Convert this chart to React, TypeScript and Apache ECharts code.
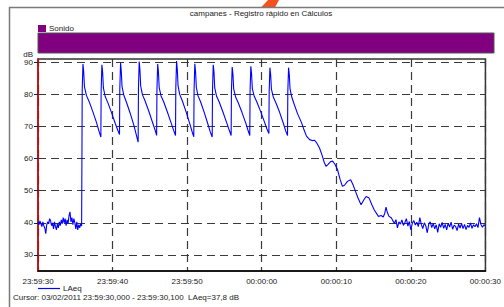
import React, { useEffect, useRef } from "react";
import * as echarts from "echarts";

const TITLE = "campanes - Registro rápido en Cálculos";
const BAND_LABEL = "Sonido";
const SERIES_NAME = "LAeq";
const CURSOR_TEXT = "Cursor: 03/02/2011 23:59:30,000 - 23:59:30,100  LAeq=37,8 dB";
const Y_UNIT = "dB";

// x axis: seconds after 23:59:30
const xTickLabels = ["23:59:30", "23:59:40", "23:59:50", "00:00:00", "00:00:10", "00:00:20", "00:00:30"];
const yTicks = [30, 40, 50, 60, 70, 80, 90];

// background noise before the bells (sampled every 0.13 s from t = 0)
const startNoiseStep = 0.13;
const startNoise = [
  40.3, 39.4, 40.6, 39.7, 38.8, 40.3, 39.1, 38.4, 36.6, 39.4,
  40.3, 39.7, 41.3, 40.6, 39.1, 40.0, 38.1, 40.3, 38.8, 37.8,
  39.7, 38.4, 40.3, 39.1, 40.9, 39.7, 41.6, 40.0, 41.3, 39.1,
  40.9, 39.7, 42.2, 43.4, 40.3, 41.6, 39.4, 41.3, 40.0, 38.1,
  40.3, 37.8, 39.4, 38.4, 39.7, 39.0,
];

// bell strikes: [seconds, dB]
const bellStrikes: [number, number][] = [
  [5.93, 81.5], [6.03, 89.4], [6.13, 87.0], [6.23, 82.3], [6.5, 79.6], [6.85, 77.8], [7.35, 74.6], [7.85, 71.2], [8.2, 68.4], [8.43, 66.7],
  [8.47, 81.3], [8.57, 89.2], [8.67, 86.8], [8.77, 82.0], [9.0, 79.4], [9.35, 77.5], [9.85, 74.4], [10.35, 71.0], [10.7, 68.8], [10.93, 67.5],
  [10.97, 81.6], [11.07, 89.8], [11.17, 87.2], [11.27, 82.4], [11.5, 79.8], [11.85, 77.6], [12.35, 74.2], [12.85, 70.4], [13.2, 67.2], [13.43, 65.1],
  [13.47, 81.8], [13.57, 90.2], [13.67, 87.6], [13.77, 82.6], [14.0, 79.9], [14.35, 78.0], [14.85, 74.8], [15.35, 71.3], [15.7, 68.9], [15.91, 67.2],
  [15.95, 81.4], [16.05, 89.4], [16.15, 87.0], [16.25, 82.1], [16.5, 79.5], [16.85, 77.7], [17.35, 74.5], [17.85, 71.1], [18.2, 68.7], [18.44, 67.2],
  [18.48, 81.9], [18.58, 90.4], [18.68, 87.8], [18.78, 82.7], [19.0, 80.0], [19.35, 78.0], [19.85, 74.6], [20.35, 70.9], [20.65, 68.5], [20.89, 66.8],
  [20.93, 81.5], [21.03, 89.5], [21.13, 87.1], [21.23, 82.2], [21.45, 79.6], [21.8, 77.7], [22.3, 74.3], [22.8, 70.6], [23.1, 68.3], [23.36, 66.7],
  [23.4, 81.3], [23.5, 89.2], [23.6, 86.9], [23.7, 82.0], [23.95, 79.4], [24.3, 77.6], [24.8, 74.5], [25.3, 71.2], [25.65, 68.8], [25.9, 67.2],
  [25.94, 81.0], [26.04, 88.5], [26.14, 86.3], [26.24, 81.7], [26.5, 79.2], [26.85, 77.4], [27.35, 74.4], [27.85, 71.1], [28.15, 68.9], [28.4, 67.2],
  [28.44, 81.1], [28.54, 88.7], [28.64, 86.4], [28.74, 81.8], [29.0, 79.4], [29.35, 77.6], [29.85, 74.7], [30.35, 71.5], [30.7, 69.2], [30.96, 67.8],
  [31.0, 80.9], [31.1, 88.3], [31.2, 86.1], [31.3, 81.6], [31.55, 79.2], [31.9, 77.4], [32.4, 74.4], [32.9, 71.0], [33.2, 68.7], [33.46, 67.2],
  [33.5, 80.9], [33.6, 88.3], [33.7, 86.1], [33.8, 81.6], [34.05, 79.0], [34.4, 76.6], [34.8, 74.0],
];

// final decay after the last strike
const decayTail: [number, number][] = [
  [35.34, 71.2], [35.7, 68.8], [36.0, 67.0], [36.43, 65.9], [36.75, 65.6], [37.09, 65.7], [37.4, 64.8], [37.75, 63.3],
  [38.1, 61.0], [38.4, 58.7], [38.63, 57.6], [38.9, 58.2], [39.2, 59.0], [39.5, 59.2], [39.8, 58.3], [40.16, 56.6],
  [40.5, 53.6], [40.82, 51.4], [41.1, 51.7], [41.5, 52.9], [41.92, 53.4], [42.2, 52.1], [42.58, 49.8], [42.9, 47.8],
  [43.32, 45.6], [43.7, 47.2], [44.0, 48.2], [44.4, 47.7], [44.77, 45.6], [45.1, 44.0], [45.65, 42.0], [46.0, 42.3],
  [46.3, 41.8], [46.5, 43.0], [46.67, 44.9], [46.85, 43.2], [47.05, 42.1], [47.4, 41.5],
];

// background noise after the bells (sampled every 0.2 s from t = 47.6)
const tailNoiseStart = 47.6;
const tailNoiseStep = 0.2;
const tailNoise = [
  40.6, 39.8, 41.0, 38.4, 40.3, 39.6, 40.9, 39.2, 40.1, 41.3, 39.0, 40.4, 37.8, 39.9, 40.7,
  39.3, 40.2, 38.8, 41.6, 39.5, 38.2, 40.0, 39.1, 36.9, 39.6, 40.3, 38.5, 39.8, 38.1, 39.4,
  37.0, 39.7, 38.6, 40.1, 38.3, 39.5, 37.8, 39.9, 38.7, 40.2, 38.0, 39.3, 38.9, 37.6, 39.6,
  38.4, 39.8, 38.2, 39.5, 37.9, 39.2, 38.6, 40.0, 38.3, 39.4, 38.8, 39.7, 38.5, 41.6, 39.5,
  38.6, 39.4, 39.0,
];

const FONT = "'Liberation Sans', Arial, sans-serif";

export default function App() {
  const ref = useRef<HTMLDivElement>(null);

  useEffect(() => {
    if (!ref.current) return;
    const chart = echarts.init(ref.current, undefined, { renderer: "svg" });

    const data: [number, number][] = [
      ...startNoise.map((v, i) => [+(i * startNoiseStep).toFixed(3), v] as [number, number]),
      ...bellStrikes,
      ...decayTail,
      ...tailNoise.map((v, i) => [+(tailNoiseStart + i * tailNoiseStep).toFixed(3), v] as [number, number]),
    ];

    const dash = { color: "#3a3a3a", type: [8, 5] as number[], width: 1.2 };
    const txt = { fontSize: 8, fontFamily: FONT, fill: "#1a1a1a" };

    chart.setOption({
      animation: false,
      backgroundColor: "#ffffff",
      grid: {
        left: 38,
        top: 59,
        width: 456,
        height: 212,
        show: true,
        borderColor: "#333333",
        borderWidth: 1.5,
        backgroundColor: "transparent",
      },
      xAxis: {
        type: "value",
        min: 0,
        max: 60,
        interval: 10,
        axisLine: { show: true, onZero: false, lineStyle: { color: "#000000", width: 1.5 } },
        axisTick: { show: false },
        axisLabel: {
          formatter: (v: number) => xTickLabels[Math.round(v / 10)] ?? "",
          fontSize: 8,
          fontFamily: FONT,
          color: "#1a1a1a",
          margin: 6,
          showMinLabel: true,
          showMaxLabel: true,
        },
        splitLine: { show: true, lineStyle: dash },
      },
      yAxis: {
        type: "value",
        min: 25,
        max: 91,
        axisLine: { show: true, onZero: false, lineStyle: { color: "#e00000", width: 1.5 } },
        axisTick: { show: true, length: 4, customValues: yTicks, lineStyle: { color: "#222222" } },
        axisLabel: {
          customValues: yTicks,
          fontSize: 8,
          fontFamily: FONT,
          color: "#1a1a1a",
          margin: 5,
        },
        splitLine: { show: true, lineStyle: dash },
      },
      series: [
        {
          name: SERIES_NAME,
          type: "line",
          data,
          symbol: "none",
          showSymbol: false,
          lineStyle: { color: "#0000ff", width: 1.1 },
          z: 5,
        },
      ],
      graphic: [
        {
          type: "polygon",
          shape: { points: [[261, 7.5], [275, 7.5], [279, 0], [268, 0]] },
          style: { fill: "#f4511e" },
          z: 1,
        },
        {
          type: "rect",
          shape: { x: 9.5, y: 7.5, width: 520, height: 320 },
          style: { fill: "none", stroke: "#7a7a7a", lineWidth: 1.5 },
          z: 1,
        },
        {
          type: "text",
          x: 261,
          y: 13.5,
          style: { ...txt, text: TITLE, align: "center", verticalAlign: "middle" },
        },
        {
          type: "rect",
          shape: { x: 38, y: 25, width: 8, height: 7 },
          style: { fill: "#800080" },
        },
        {
          type: "text",
          x: 49,
          y: 28.5,
          style: { ...txt, text: BAND_LABEL, align: "left", verticalAlign: "middle" },
        },
        {
          type: "rect",
          shape: { x: 38, y: 33, width: 456, height: 20 },
          style: { fill: "#800080", stroke: "#555555", lineWidth: 1 },
        },
        {
          type: "text",
          x: 33,
          y: 54.5,
          style: { ...txt, text: Y_UNIT, align: "right", verticalAlign: "middle" },
        },
        {
          type: "line",
          shape: { x1: 38, y1: 288.5, x2: 60, y2: 288.5 },
          style: { stroke: "#0000ff", lineWidth: 1.2 },
        },
        {
          type: "text",
          x: 63,
          y: 288,
          style: { ...txt, text: SERIES_NAME, align: "left", verticalAlign: "middle" },
        },
        {
          type: "text",
          x: 13,
          y: 297.5,
          style: { ...txt, text: CURSOR_TEXT, align: "left", verticalAlign: "middle" },
        },
      ],
    });

    return () => chart.dispose();
  }, []);

  return (
    <div
      ref={ref}
      style={{ position: "fixed", left: 0, top: 0, width: 504, height: 307 }}
    />
  );
}
